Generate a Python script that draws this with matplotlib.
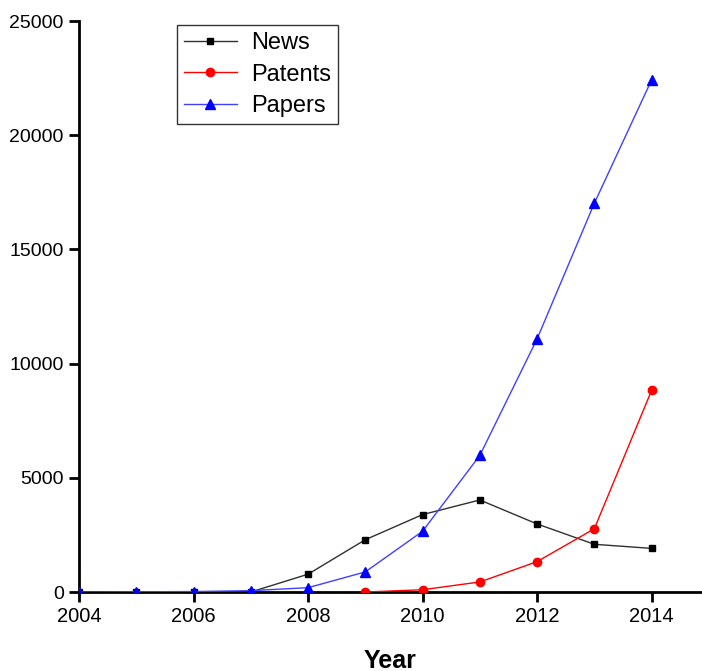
import matplotlib
matplotlib.use("Agg")
import matplotlib.pyplot as plt

years = [2004, 2005, 2006, 2007, 2008, 2009, 2010, 2011, 2012, 2013, 2014]
news = [0, 0, 0, 0, 780, 2290, 3390, 4030, 2980, 2090, 1910]
patent_years = [2009, 2010, 2011, 2012, 2013, 2014]
patents = [0, 100, 440, 1330, 2770, 8830]
papers = [0, 10, 20, 60, 190, 880, 2660, 5980, 11080, 17020, 22420]

plt.rcParams['font.family'] = ['Liberation Sans', 'DejaVu Sans']

fig = plt.figure(figsize=(7.02, 6.71), dpi=100)
ax = fig.add_axes([0.1125, 0.1177, 0.8875, 0.851])

ax.plot(years, news, color='#303030', lw=1, marker='s', ms=5,
        mfc='black', mec='black', label='News', zorder=2)
ax.plot(patent_years, patents, color='red', lw=1, marker='o', ms=6,
        mfc='red', mec='red', label='Patents', zorder=3)
ax.plot(years, papers, color='#4040ff', lw=1, marker='^', ms=7,
        mfc='blue', mec='blue', label='Papers', zorder=4)

ax.set_xlim(2004, 2014.88)
ax.set_ylim(0, 25000)
ax.set_xticks([2004, 2006, 2008, 2010, 2012, 2014])
ax.set_yticks([0, 5000, 10000, 15000, 20000, 25000])

for s in ['top', 'right']:
    ax.spines[s].set_visible(False)
for s in ['left', 'bottom']:
    ax.spines[s].set_linewidth(2)
ax.tick_params(axis='both', length=7, width=2, pad=4)
ax.tick_params(axis='x', labelsize=14.5)
ax.tick_params(axis='y', labelsize=14)
ax.set_xlabel('Year', fontsize=18, fontweight='bold', labelpad=16)

leg = ax.legend(loc='upper left', bbox_to_anchor=(0.157, 0.993), fontsize=17,
                frameon=True, fancybox=False, framealpha=1, edgecolor='#333333',
                handlelength=2.25, borderpad=0.3, labelspacing=0.4,
                handletextpad=0.6, borderaxespad=0)
leg.get_frame().set_linewidth(1)

fig.savefig('out.png', dpi=100)
